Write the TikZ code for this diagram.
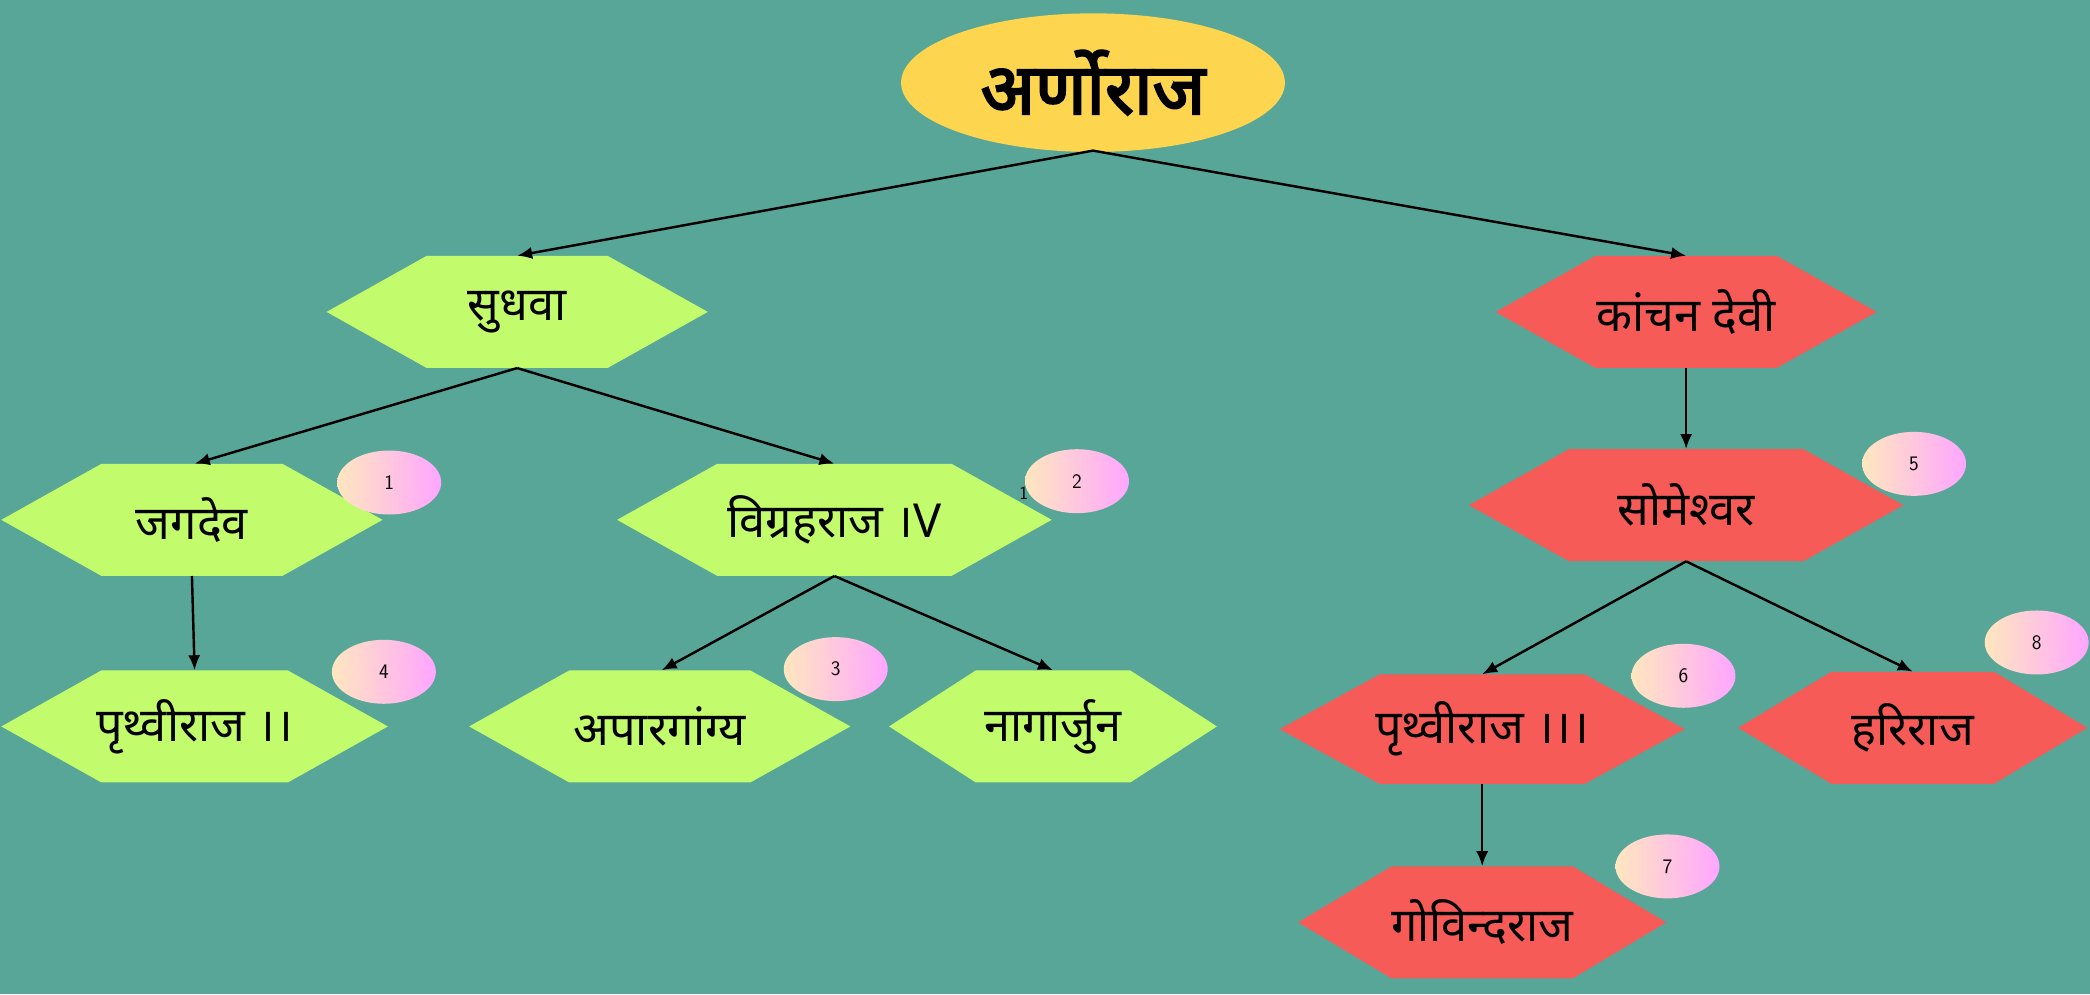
\documentclass[tikz,border=0pt]{standalone}
\usepackage{fontspec}
\newfontfamily\dev[Script=Devanagari]{Noto Sans}
\newfontfamily\devb[Script=Devanagari,FakeBold=3]{Noto Sans}
\usetikzlibrary{arrows.meta,shapes.geometric}
\definecolor{bg}{HTML}{58A698}
\definecolor{lime}{HTML}{C2FC6C}
\definecolor{redh}{HTML}{F65B58}
\definecolor{gold}{HTML}{FDD54E}
\tikzset{
 lbl/.style={font=\dev\fontsize{50}{60}\selectfont, inner sep=0pt},
 edge/.style={line width=2.6pt, -{Latex[length=16pt,width=13pt]}},
 badge/.style={ellipse, minimum width=3.9cm, minimum height=2.4cm, inner sep=0pt,
   left color=yellow!25!orange!25, right color=magenta!35, shading angle=90,
   font=\sffamily\fontsize{22}{26}\selectfont},
}
% \hexa{name}{x}{y}{halfwidth}{halfheight}{inset}{color}{text}
\newcommand{\hexa}[8]{%
 \fill[#7] (#2-#4,-#3) -- (#2-#4+#6,-#3+#5) -- (#2+#4-#6,-#3+#5) -- (#2+#4,-#3)
   -- (#2+#4-#6,-#3-#5) -- (#2-#4+#6,-#3-#5) -- cycle;
 \node[lbl, minimum width=#4*0.1cm, minimum height=#5*0.1cm] (#1) at (#2,-#3) {#8};}
\begin{document}
\begin{tikzpicture}[x=0.05cm,y=0.05cm]
\fill[bg] (0,0) rectangle (1568,-746);
\useasboundingbox (0,0) rectangle (1568,-746);
\node[ellipse, fill=gold, minimum width=14.4cm, minimum height=5.2cm, inner sep=0pt,
  font=\devb\fontsize{76}{86}\selectfont] (root) at (820,-62) {अर्णोराज};
\hexa{sud}{388}{234}{143}{42}{75}{lime}{सुधवा}
\hexa{kan}{1265}{234}{143}{42}{75}{redh}{कांचन देवी}
\hexa{jag}{144}{390}{143}{42}{75}{lime}{जगदेव}
\hexa{vig}{626}{390}{163}{42}{75}{lime}{विग्रहराज ।V}
\hexa{pr2}{146}{545}{145}{42}{75}{lime}{पृथ्वीराज ।।}
\hexa{apa}{495}{545}{143}{42}{75}{lime}{अपारगांग्य}
\hexa{nag}{790}{545}{123}{42}{65}{lime}{नागार्जुन}
\hexa{som}{1265}{379}{163}{42}{75}{redh}{सोमेश्वर}
\hexa{pr3}{1112}{547}{152}{41}{75}{redh}{पृथ्वीराज ।।।}
\hexa{har}{1435}{546}{131}{42}{70}{redh}{हरिराज}
\hexa{gov}{1112}{692}{138}{42}{70}{redh}{गोविन्दराज}
\node[font=\sffamily\fontsize{20}{24}\selectfont] (one) at (768,-370) {1};
\node[badge] (b1) at (292,-362) {1};
\node[badge] (b2) at (808,-361) {2};
\node[badge] (b3) at (627,-502) {3};
\node[badge] (b4) at (288,-504) {4};
\node[badge] (b5) at (1436,-348) {5};
\node[badge] (b6) at (1263,-507) {6};
\node[badge] (b7) at (1251,-650) {7};
\node[badge] (b8) at (1528,-482) {8};
\coordinate (r) at (820,-113);
\draw[edge] (r) -- (sud.north);
\draw[edge] (r) -- (kan.north);
\draw[edge] (sud.south) -- ([xshift=3]jag.north);
\draw[edge] (sud.south) -- (vig.north);
\draw[edge] (kan.south) -- (som.north);
\draw[edge] (jag.south) -- (pr2.north);
\draw[edge] (vig.south) -- ([xshift=2]apa.north);
\draw[edge] (vig.south) -- (nag.north);
\draw[edge] (som.south) -- (pr3.north);
\draw[edge] (som.south) -- (har.north);
\draw[edge] (pr3.south) -- (gov.north);
\end{tikzpicture}
\end{document}
